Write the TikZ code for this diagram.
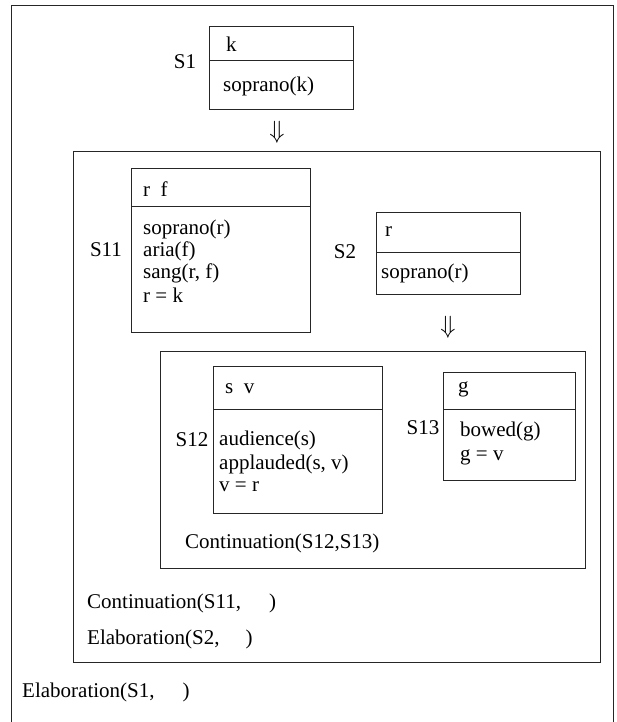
\documentclass[tikz,border=0pt]{standalone}
\usepackage{fontspec}
\setmainfont{Liberation Serif}
\begin{document}
\begin{tikzpicture}[x=1pt,y=-1pt,
  frame/.style={draw=black!85, line width=0.8pt, inner sep=0pt, outer sep=0pt, anchor=north west},
  rulel/.style={draw=black!85, line width=0.8pt},
  txt/.style={inner sep=0pt, anchor=west, font=\fontsize{21}{24}\selectfont},
  lbl/.style={inner sep=0pt, anchor=center, font=\fontsize{21}{24}\selectfont},
  arr/.style={inner sep=0pt, anchor=center, font=\fontsize{24}{26}\selectfont}]
\useasboundingbox (0,0) rectangle (617,722);
% outer frame (bottom edge lies beyond the page)
\draw[rulel] (11,722) -- (11,5) -- (613,5) -- (613,722);

% S1
\node[frame, minimum width=144pt, minimum height=83pt] (s1) at (209,26) {};
\draw[rulel] (209,60) -- (353,60);
\node[lbl] (s1l) at (185,62) {S1};
\node[txt] (s1h) at (226,44) {k};
\node[txt] (s1b) at (223,86) {soprano(k)};
\node[arr] (ar1) at (277,132) {$\Downarrow$};

% big inner box
\node[frame, minimum width=527pt, minimum height=511pt] (big) at (73,151) {};

% S11
\node[frame, minimum width=179pt, minimum height=164pt] (s11) at (131,168) {};
\draw[rulel] (131,206) -- (310,206);
\node[lbl] (s11l) at (106,250) {S11};
\node[txt] (s11h) at (143,189) {r\ \ f};
\node[txt] (s11a) at (143,229) {soprano(r)};
\node[txt] (s11b) at (143,251) {aria(f)};
\node[txt] (s11c) at (143,273) {sang(r, f)};
\node[txt] (s11d) at (143,295) {r = k};

% S2
\node[frame, minimum width=144pt, minimum height=82pt] (s2) at (376,212) {};
\draw[rulel] (376,252) -- (520,252);
\node[lbl] (s2l) at (345,252) {S2};
\node[txt] (s2h) at (385,232) {r};
\node[txt] (s2b) at (381,273) {soprano(r)};
\node[arr] (ar2) at (448,327) {$\Downarrow$};

% continuation box
\node[frame, minimum width=425pt, minimum height=217pt] (cont) at (160,351) {};

% S12
\node[frame, minimum width=169pt, minimum height=147pt] (s12) at (213,366) {};
\draw[rulel] (213,409) -- (382,409);
\node[lbl] (s12l) at (192,440) {S12};
\node[txt] (s12h) at (225,389) {s\ \ v};
\node[txt] (s12a) at (219,440) {audience(s)};
\node[txt] (s12b) at (219,464) {applauded(s, v)};
\node[txt] (s12c) at (219,487) {v\ =\ r};

% S13
\node[frame, minimum width=132pt, minimum height=108pt] (s13) at (443,372) {};
\draw[rulel] (443,409) -- (575,409);
\node[lbl] (s13l) at (423,428) {S13};
\node[txt] (s13h) at (458,389) {g};
\node[txt] (s13a) at (460,431) {bowed(g)};
\node[txt] (s13b) at (460,457) {g\ =\ v};

% relations
\node[txt] (r1) at (185,543) {Continuation(S12,S13)};
\node[txt] (r2) at (87,603) {Continuation(S11,\hspace{28pt})};
\node[txt] (r3) at (87,639) {Elaboration(S2,\hspace{26pt})};
\node[txt] (r4) at (22,692) {Elaboration(S1,\hspace{28pt})};
\end{tikzpicture}
\end{document}
